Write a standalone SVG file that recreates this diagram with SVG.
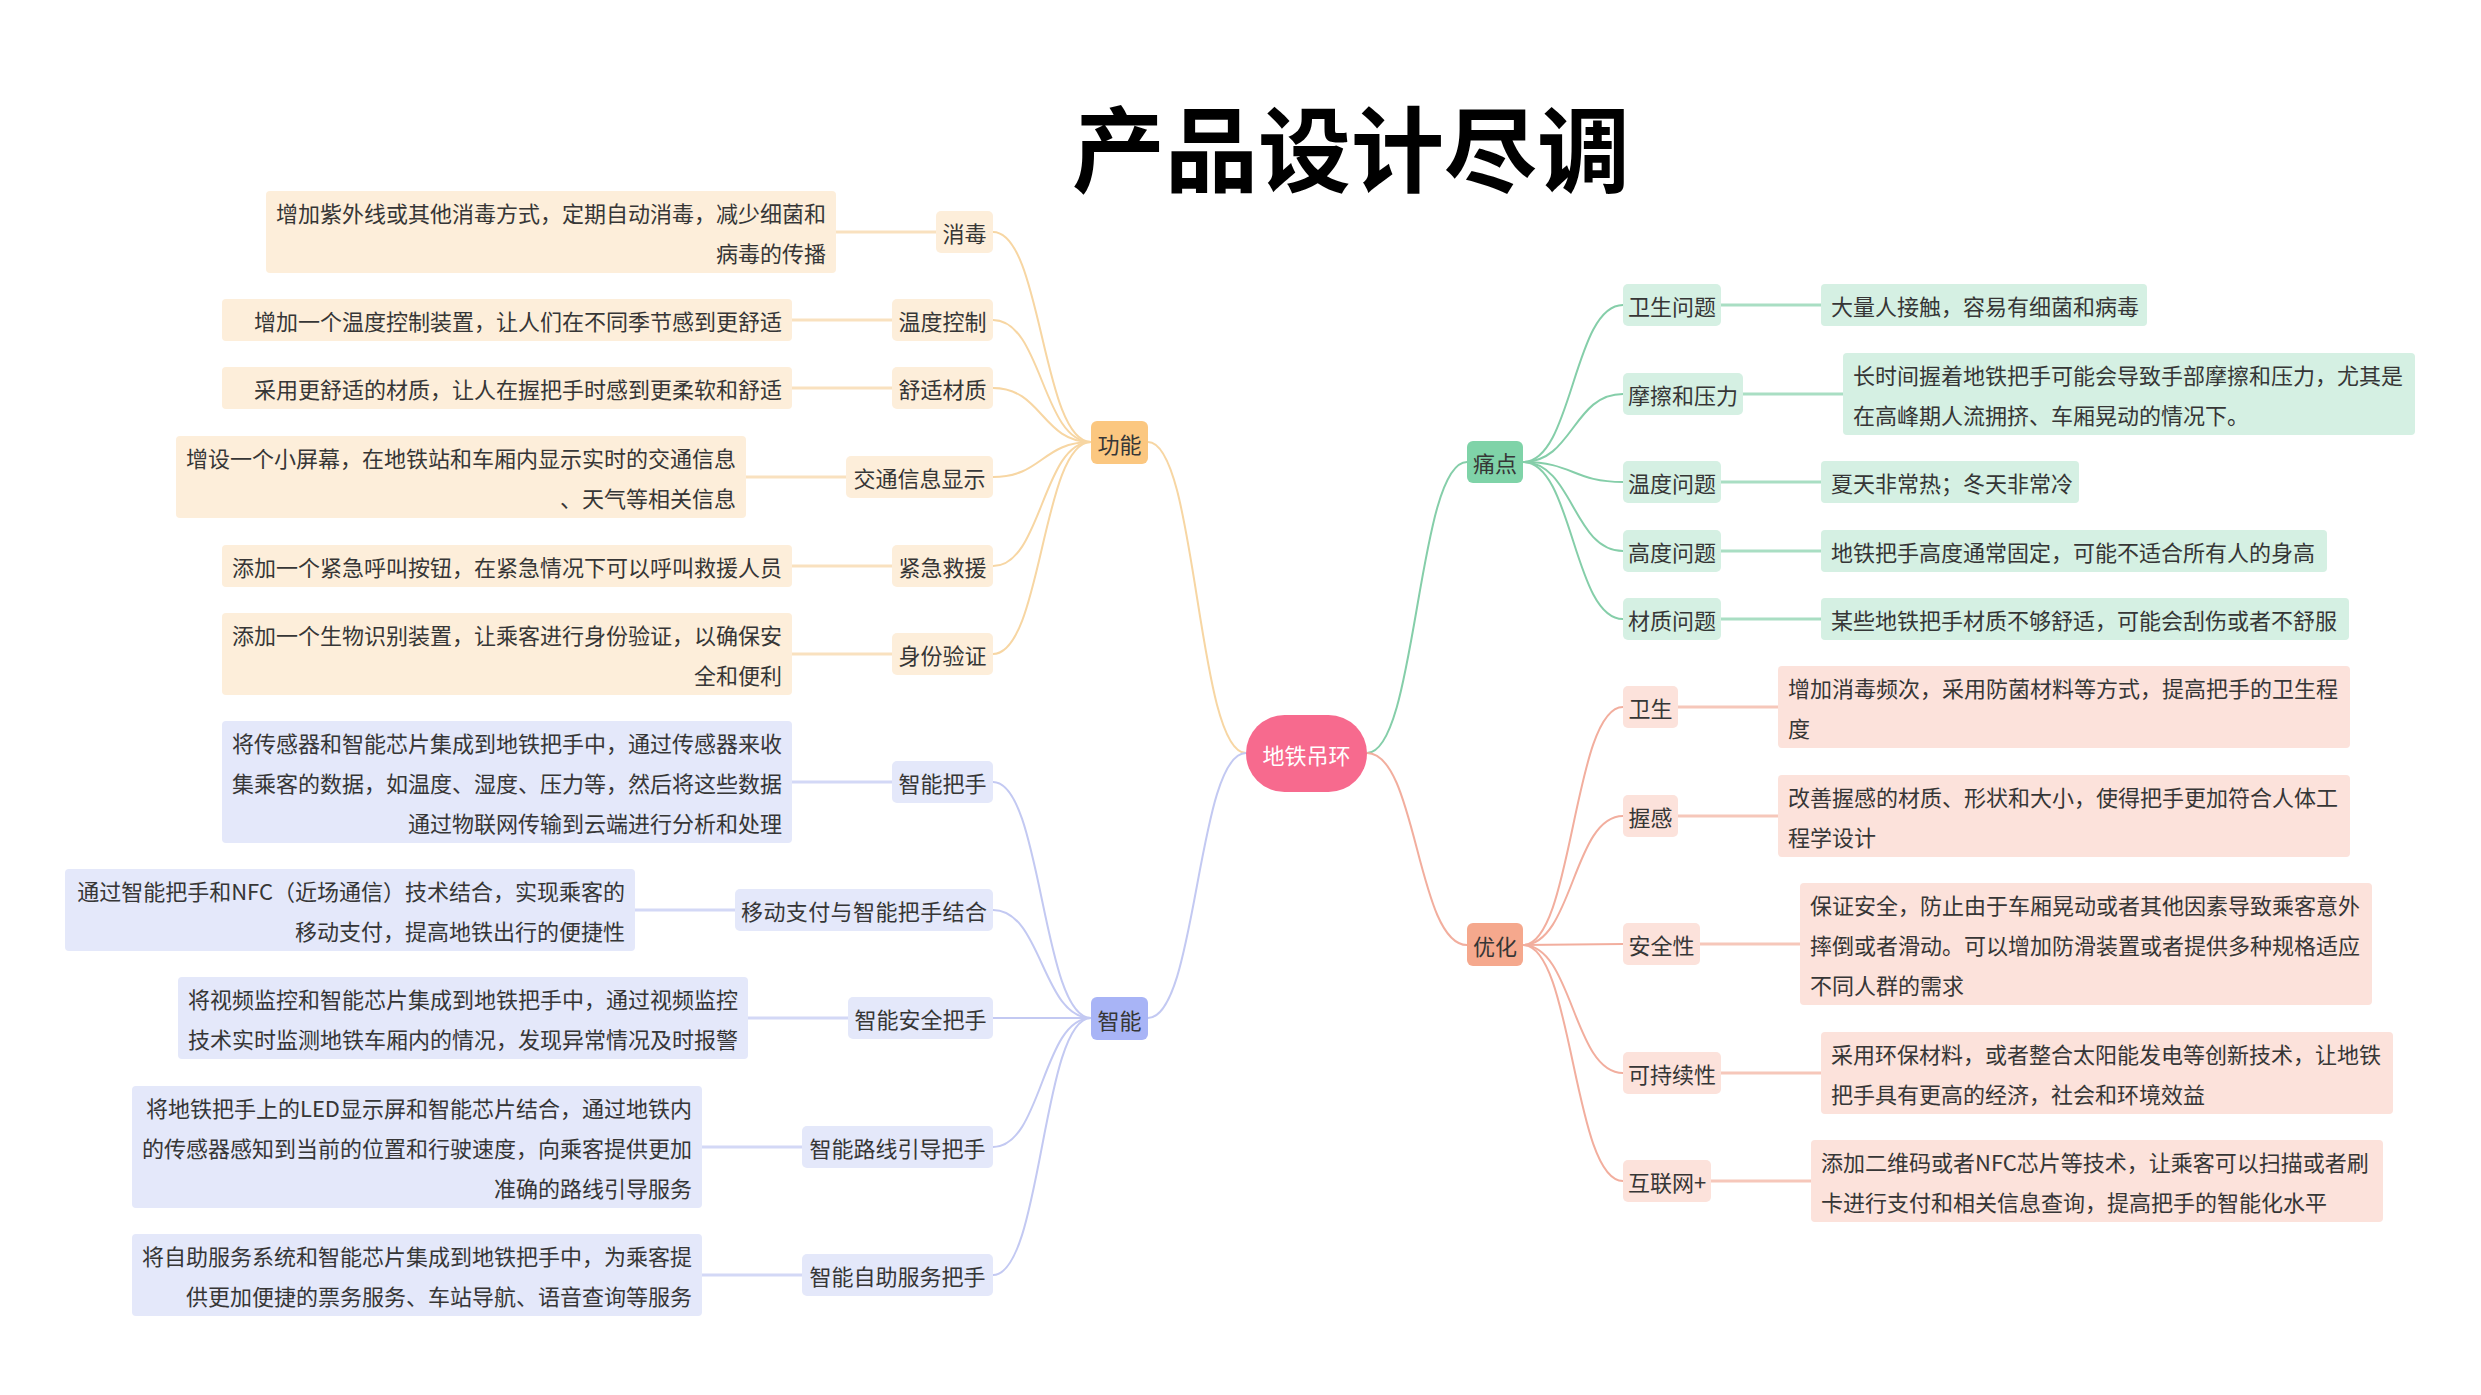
<svg xmlns="http://www.w3.org/2000/svg" width="2481" height="1395" viewBox="0 0 2481 1395">
<style>
text{font-family:"Noto Sans CJK SC","Noto Sans",sans-serif;font-size:22px;fill:#363636;dominant-baseline:central}
.title{font-size:93px;font-weight:bold;fill:#000;dominant-baseline:auto}
.ctr{fill:#fff}
.m{text-anchor:middle}
.e{text-anchor:end}
.s{text-anchor:start}
.c{fill:none;stroke-width:2}
.l{fill:none;stroke-width:3}
.oC{stroke:#F7D6A3}.oL{stroke:#F9E1BF}.oF{fill:#FDEEDA}.oN{fill:#FBC780}
.bC{stroke:#C3C9F2}.bL{stroke:#D3D8F6}.bF{fill:#E4E8FA}.bN{fill:#A8B4F6}
.gC{stroke:#85CEA9}.gL{stroke:#A9DEC3}.gF{fill:#D5F0E3}.gN{fill:#7FD3A8}
.rC{stroke:#F2AE9E}.rL{stroke:#F6C7BA}.rF{fill:#FCE2DB}.rN{fill:#F5A88D}
</style>
<rect width="2481" height="1395" fill="#fff"/>
<text class="title m" x="1351" y="185">产品设计尽调</text>

<g id="connectors">
<path class="c oC" d="M1246 753 C1197 753 1197 442 1148 442"/>
<path class="c bC" d="M1246 753 C1197 753 1197 1018 1148 1018"/>
<path class="c gC" d="M1367 753 C1417 753 1417 462 1467 462"/>
<path class="c rC" d="M1367 753 C1417 753 1417 945 1467 945"/>

<path class="c oC" d="M1091 442 C1042 442 1042 232 993 232"/>
<path class="c oC" d="M1091 442 C1042 442 1042 320 993 320"/>
<path class="c oC" d="M1091 442 C1042 442 1042 388 993 388"/>
<path class="c oC" d="M1091 442 C1042 442 1042 477 993 477"/>
<path class="c oC" d="M1091 442 C1042 442 1042 566 993 566"/>
<path class="c oC" d="M1091 442 C1042 442 1042 654 993 654"/>

<path class="c bC" d="M1091 1018 C1042 1018 1042 782 993 782"/>
<path class="c bC" d="M1091 1018 C1042 1018 1042 910 993 910"/>
<path class="c bC" d="M1091 1018 L993 1018"/>
<path class="c bC" d="M1091 1018 C1042 1018 1042 1147 993 1147"/>
<path class="c bC" d="M1091 1018 C1042 1018 1042 1275 993 1275"/>

<path class="c gC" d="M1523 462 C1573 462 1573 305 1623 305"/>
<path class="c gC" d="M1523 462 C1573 462 1573 394 1623 394"/>
<path class="c gC" d="M1523 462 C1573 462 1573 482 1623 482"/>
<path class="c gC" d="M1523 462 C1573 462 1573 551 1623 551"/>
<path class="c gC" d="M1523 462 C1573 462 1573 619 1623 619"/>

<path class="c rC" d="M1523 945 C1573 945 1573 707 1623 707"/>
<path class="c rC" d="M1523 945 C1573 945 1573 816 1623 816"/>
<path class="c rC" d="M1523 945 L1623 944"/>
<path class="c rC" d="M1523 945 C1573 945 1573 1073 1623 1073"/>
<path class="c rC" d="M1523 945 C1573 945 1573 1181 1623 1181"/>

<path class="l oL" d="M936 232 H836"/>
<path class="l oL" d="M892 320 H792"/>
<path class="l oL" d="M892 388 H792"/>
<path class="l oL" d="M846 477 H746"/>
<path class="l oL" d="M892 566 H792"/>
<path class="l oL" d="M892 654 H792"/>
<path class="l bL" d="M892 782 H792"/>
<path class="l bL" d="M735 910 H635"/>
<path class="l bL" d="M848 1018 H748"/>
<path class="l bL" d="M802 1147 H702"/>
<path class="l bL" d="M802 1275 H702"/>

<path class="l gL" d="M1721 305 H1821"/>
<path class="l gL" d="M1743 394 H1843"/>
<path class="l gL" d="M1721 482 H1821"/>
<path class="l gL" d="M1721 551 H1821"/>
<path class="l gL" d="M1721 619 H1821"/>
<path class="l rL" d="M1678 707 H1778"/>
<path class="l rL" d="M1678 816 H1778"/>
<path class="l rL" d="M1700 944 H1800"/>
<path class="l rL" d="M1721 1073 H1821"/>
<path class="l rL" d="M1711 1181 H1811"/>
</g>

<g id="center"><rect x="1246" y="715" width="121" height="77" rx="38.5" fill="#F76A8E"/><text class="m ctr" x="1306.5" y="753.5">地铁吊环</text></g>

<g id="n-gongneng"><rect class="oN" x="1091" y="421" width="57" height="43" rx="6"/><text class="m" x="1119.5" y="442.5">功能</text></g>
<g id="n-zhineng"><rect class="bN" x="1091" y="997" width="57" height="43" rx="6"/><text class="m" x="1119.5" y="1018.5">智能</text></g>
<g id="n-tongdian"><rect class="gN" x="1467" y="441" width="56" height="42" rx="6"/><text class="m" x="1495" y="462">痛点</text></g>
<g id="n-youhua"><rect class="rN" x="1467" y="923" width="56" height="43" rx="6"/><text class="m" x="1495" y="944.5">优化</text></g>

<g id="n-xiaodu"><rect class="oF" x="936" y="211" width="57" height="42" rx="5"/><text class="m" x="964.5" y="232">消毒</text></g>
<g id="l-xiaodu"><rect class="oF" x="266" y="191" width="570" height="82" rx="4"/><text class="e" x="826" y="212">增加紫外线或其他消毒方式，定期自动消毒，减少细菌和</text><text class="e" x="826" y="252">病毒的传播</text></g>
<g id="n-wendu"><rect class="oF" x="892" y="299" width="101" height="42" rx="5"/><text class="m" x="942.5" y="320">温度控制</text></g>
<g id="l-wendu"><rect class="oF" x="222" y="299" width="570" height="42" rx="4"/><text class="e" x="782" y="320">增加一个温度控制装置，让人们在不同季节感到更舒适</text></g>
<g id="n-shushi"><rect class="oF" x="892" y="367" width="101" height="42" rx="5"/><text class="m" x="942.5" y="388">舒适材质</text></g>
<g id="l-shushi"><rect class="oF" x="222" y="367" width="570" height="42" rx="4"/><text class="e" x="782" y="388">采用更舒适的材质，让人在握把手时感到更柔软和舒适</text></g>
<g id="n-jiaotong"><rect class="oF" x="846" y="456" width="147" height="42" rx="5"/><text class="m" x="919.5" y="477">交通信息显示</text></g>
<g id="l-jiaotong"><rect class="oF" x="176" y="436" width="570" height="82" rx="4"/><text class="e" x="736" y="457">增设一个小屏幕，在地铁站和车厢内显示实时的交通信息</text><text class="e" x="736" y="497">、天气等相关信息</text></g>
<g id="n-jinji"><rect class="oF" x="892" y="545" width="101" height="42" rx="5"/><text class="m" x="942.5" y="566">紧急救援</text></g>
<g id="l-jinji"><rect class="oF" x="222" y="545" width="570" height="42" rx="4"/><text class="e" x="782" y="566">添加一个紧急呼叫按钮，在紧急情况下可以呼叫救援人员</text></g>
<g id="n-shenfen"><rect class="oF" x="892" y="633" width="101" height="42" rx="5"/><text class="m" x="942.5" y="654">身份验证</text></g>
<g id="l-shenfen"><rect class="oF" x="222" y="613" width="570" height="82" rx="4"/><text class="e" x="782" y="634">添加一个生物识别装置，让乘客进行身份验证，以确保安</text><text class="e" x="782" y="674">全和便利</text></g>

<g id="n-znbs"><rect class="bF" x="892" y="761" width="101" height="42" rx="5"/><text class="m" x="942.5" y="782">智能把手</text></g>
<g id="l-znbs"><rect class="bF" x="222" y="721" width="570" height="122" rx="4"/><text class="e" x="782" y="742">将传感器和智能芯片集成到地铁把手中，通过传感器来收</text><text class="e" x="782" y="782">集乘客的数据，如温度、湿度、压力等，然后将这些数据</text><text class="e" x="782" y="822">通过物联网传输到云端进行分析和处理</text></g>
<g id="n-ydzf"><rect class="bF" x="735" y="889" width="258" height="42" rx="5"/><text class="m" x="864" y="910" textLength="246" lengthAdjust="spacing">移动支付与智能把手结合</text></g>
<g id="l-ydzf"><rect class="bF" x="65" y="869" width="570" height="82" rx="4"/><text class="e" x="625" y="890">通过智能把手和NFC（近场通信）技术结合，实现乘客的</text><text class="e" x="625" y="930">移动支付，提高地铁出行的便捷性</text></g>
<g id="n-znaq"><rect class="bF" x="848" y="997" width="145" height="42" rx="5"/><text class="m" x="920.5" y="1018">智能安全把手</text></g>
<g id="l-znaq"><rect class="bF" x="178" y="977" width="570" height="82" rx="4"/><text class="e" x="738" y="998">将视频监控和智能芯片集成到地铁把手中，通过视频监控</text><text class="e" x="738" y="1038">技术实时监测地铁车厢内的情况，发现异常情况及时报警</text></g>
<g id="n-znlx"><rect class="bF" x="802" y="1126" width="191" height="42" rx="5"/><text class="m" x="897.5" y="1147">智能路线引导把手</text></g>
<g id="l-znlx"><rect class="bF" x="132" y="1086" width="570" height="122" rx="4"/><text class="e" x="692" y="1107">将地铁把手上的LED显示屏和智能芯片结合，通过地铁内</text><text class="e" x="692" y="1147">的传感器感知到当前的位置和行驶速度，向乘客提供更加</text><text class="e" x="692" y="1187">准确的路线引导服务</text></g>
<g id="n-znzz"><rect class="bF" x="802" y="1254" width="191" height="42" rx="5"/><text class="m" x="897.5" y="1275">智能自助服务把手</text></g>
<g id="l-znzz"><rect class="bF" x="132" y="1234" width="570" height="82" rx="4"/><text class="e" x="692" y="1255">将自助服务系统和智能芯片集成到地铁把手中，为乘客提</text><text class="e" x="692" y="1295">供更加便捷的票务服务、车站导航、语音查询等服务</text></g>

<g id="n-wswt"><rect class="gF" x="1623" y="284" width="98" height="42" rx="5"/><text class="m" x="1672" y="305">卫生问题</text></g>
<g id="l-wswt"><rect class="gF" x="1821" y="284" width="326" height="42" rx="4"/><text class="s" x="1831" y="305">大量人接触，容易有细菌和病毒</text></g>
<g id="n-mcyl"><rect class="gF" x="1623" y="373" width="120" height="42" rx="5"/><text class="m" x="1683" y="394">摩擦和压力</text></g>
<g id="l-mcyl"><rect class="gF" x="1843" y="353" width="572" height="82" rx="4"/><text class="s" x="1853" y="374">长时间握着地铁把手可能会导致手部摩擦和压力，尤其是</text><text class="s" x="1853" y="414">在高峰期人流拥挤、车厢晃动的情况下。</text></g>
<g id="n-wdwt"><rect class="gF" x="1623" y="461" width="98" height="42" rx="5"/><text class="m" x="1672" y="482">温度问题</text></g>
<g id="l-wdwt"><rect class="gF" x="1821" y="461" width="258" height="42" rx="4"/><text class="s" x="1831" y="482">夏天非常热；冬天非常冷</text></g>
<g id="n-gdwt"><rect class="gF" x="1623" y="530" width="98" height="42" rx="5"/><text class="m" x="1672" y="551">高度问题</text></g>
<g id="l-gdwt"><rect class="gF" x="1821" y="530" width="506" height="42" rx="4"/><text class="s" x="1831" y="551">地铁把手高度通常固定，可能不适合所有人的身高</text></g>
<g id="n-czwt"><rect class="gF" x="1623" y="598" width="98" height="42" rx="5"/><text class="m" x="1672" y="619">材质问题</text></g>
<g id="l-czwt"><rect class="gF" x="1821" y="598" width="528" height="42" rx="4"/><text class="s" x="1831" y="619">某些地铁把手材质不够舒适，可能会刮伤或者不舒服</text></g>

<g id="n-ws"><rect class="rF" x="1623" y="686" width="55" height="42" rx="5"/><text class="m" x="1650.5" y="707">卫生</text></g>
<g id="l-ws"><rect class="rF" x="1778" y="666" width="572" height="82" rx="4"/><text class="s" x="1788" y="687">增加消毒频次，采用防菌材料等方式，提高把手的卫生程</text><text class="s" x="1788" y="727">度</text></g>
<g id="n-wg"><rect class="rF" x="1623" y="795" width="55" height="42" rx="5"/><text class="m" x="1650.5" y="816">握感</text></g>
<g id="l-wg"><rect class="rF" x="1778" y="775" width="572" height="82" rx="4"/><text class="s" x="1788" y="796">改善握感的材质、形状和大小，使得把手更加符合人体工</text><text class="s" x="1788" y="836">程学设计</text></g>
<g id="n-aqx"><rect class="rF" x="1623" y="923" width="77" height="42" rx="5"/><text class="m" x="1661.5" y="944">安全性</text></g>
<g id="l-aqx"><rect class="rF" x="1800" y="883" width="572" height="122" rx="4"/><text class="s" x="1810" y="904">保证安全，防止由于车厢晃动或者其他因素导致乘客意外</text><text class="s" x="1810" y="944">摔倒或者滑动。可以增加防滑装置或者提供多种规格适应</text><text class="s" x="1810" y="984">不同人群的需求</text></g>
<g id="n-kcx"><rect class="rF" x="1623" y="1052" width="98" height="42" rx="5"/><text class="m" x="1672" y="1073">可持续性</text></g>
<g id="l-kcx"><rect class="rF" x="1821" y="1032" width="572" height="82" rx="4"/><text class="s" x="1831" y="1053">采用环保材料，或者整合太阳能发电等创新技术，让地铁</text><text class="s" x="1831" y="1093">把手具有更高的经济，社会和环境效益</text></g>
<g id="n-hlw"><rect class="rF" x="1623" y="1160" width="88" height="42" rx="5"/><text class="m" x="1667" y="1181">互联网+</text></g>
<g id="l-hlw"><rect class="rF" x="1811" y="1140" width="572" height="82" rx="4"/><text class="s" x="1821" y="1161">添加二维码或者NFC芯片等技术，让乘客可以扫描或者刷</text><text class="s" x="1821" y="1201">卡进行支付和相关信息查询，提高把手的智能化水平</text></g>
</svg>
